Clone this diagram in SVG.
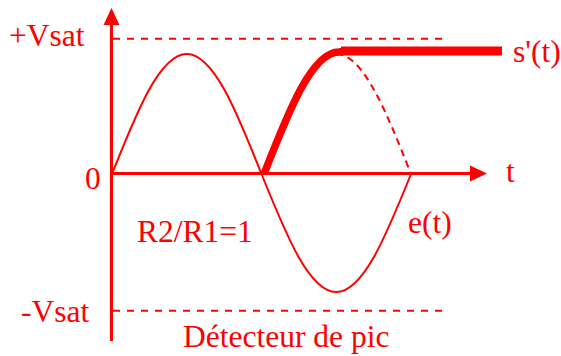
<svg xmlns="http://www.w3.org/2000/svg" width="561" height="356" viewBox="0 0 561 356">
<style>
.ax{stroke:#ff0000;stroke-width:3;fill:none}
.ah{fill:#ff0000;stroke:none}
.dash{stroke:#ff0000;stroke-width:2;fill:none;stroke-dasharray:7 7}
.thin{stroke:#ff0000;stroke-width:2;fill:none}
.dcurve{stroke:#ff0000;stroke-width:2;fill:none;stroke-dasharray:7 5}
.thick{stroke:#ff0000;stroke-width:7.5;fill:none;stroke-linejoin:round}
.lbl{font-family:"Liberation Serif","Times New Roman",serif;font-size:31.5px;fill:#ff0000}
</style>
<rect width="561" height="356" fill="#ffffff"/>
<g id="axes">
<line class="ax" x1="111.5" y1="24" x2="111.5" y2="341"/>
<polygon class="ah" points="111.5,8 103.5,25 119.5,25"/>
<line class="ax" x1="110" y1="173.5" x2="472" y2="173.5"/>
<polygon class="ah" points="487,173.5 470,165.5 470,181.5"/>
</g>
<g id="levels">
<line class="dash" x1="113" y1="38.7" x2="442" y2="38.7"/>
<line class="dash" x1="113" y1="310.7" x2="442" y2="310.7"/>
</g>
<g id="curves">
<path id="e-t" class="thin" d="M112,174 C136.38,112.5 159.7,54 186.75,54 C213.8,54 237.12,112.5 261.5,174 C285.88,234.5 309.2,292 336.25,292 C363.3,292 386.62,234.5 411,174"/>
<path id="e-t-dashed" class="dcurve" d="M336.25,54 C363.3,54 386.62,112.5 411,174"/>
<path id="s-t" class="thick" d="M264,174 C288.46,111.5 311.86,52 339,52 L343,51.5"/>
<line class="thick" x1="341" y1="51" x2="502" y2="51" style="stroke-width:9"/>
</g>
<g id="labels">
<text class="lbl" x="9" y="46">+Vsat</text>
<text class="lbl" x="85" y="189">0</text>
<text class="lbl" x="21" y="322">-Vsat</text>
<text class="lbl" x="137" y="242">R2/R1=1</text>
<text class="lbl" x="506" y="182">t</text>
<text class="lbl" x="408" y="233">e(t)</text>
<text class="lbl" x="513" y="62">s'(t)</text>
<text class="lbl" x="183" y="347">Détecteur de pic</text>
</g>
</svg>
